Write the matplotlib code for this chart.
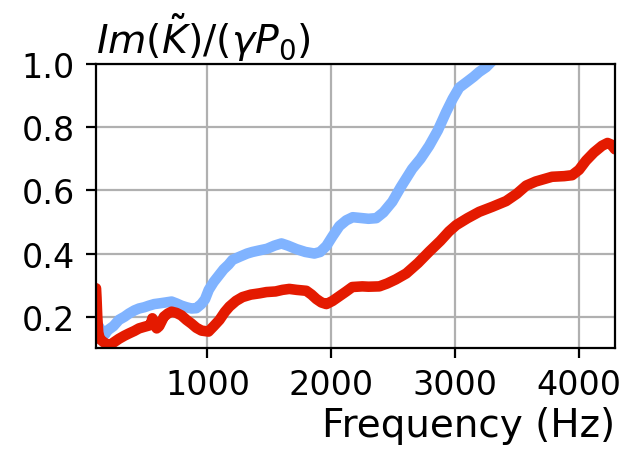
import matplotlib
matplotlib.use("Agg")
import matplotlib.pyplot as plt

# Frequency (Hz) and normalised imaginary bulk modulus for the two samples
freq_blue = [100, 108, 115, 122, 130, 140, 150, 165, 175, 190, 205, 240, 285, 330, 366,
             410, 447, 490, 527, 570, 608, 660, 710, 750, 790, 830, 871, 910, 950,
             980, 1010, 1050, 1090, 1130, 1170, 1202, 1260, 1320, 1363, 1420, 1480,
             1540, 1597, 1650, 1718, 1790, 1863, 1910, 1960, 2010, 2065, 2120, 2173,
             2250, 2300, 2363, 2420, 2492, 2560, 2653, 2720, 2790, 2860, 2927, 2980,
             3032, 3100, 3150, 3194, 3250, 3300]
im_blue = [0.16, 0.14, 0.13, 0.17, 0.14, 0.16, 0.14, 0.15, 0.145, 0.155, 0.16, 0.17,
           0.19, 0.20, 0.21, 0.22, 0.226, 0.23, 0.235, 0.24, 0.242, 0.245, 0.248, 0.242,
           0.235, 0.23, 0.226, 0.227, 0.24, 0.255, 0.285, 0.31, 0.33, 0.35, 0.365, 0.38,
           0.39, 0.40, 0.405, 0.41, 0.415, 0.425, 0.432, 0.425, 0.414, 0.405, 0.40,
           0.405, 0.424, 0.455, 0.487, 0.505, 0.515, 0.512, 0.51, 0.512, 0.53, 0.564,
           0.61, 0.668, 0.70, 0.741, 0.79, 0.848, 0.89, 0.925, 0.945, 0.96, 0.975,
           0.99, 1.01]

freq_red = [100, 104, 110, 118, 130, 160, 200, 229, 285, 330, 366, 410, 447, 490, 527,
            545, 555, 570, 590, 610, 648, 680, 710, 750, 790, 830, 871, 910, 952, 1008,
            1050, 1097, 1140, 1177, 1230, 1282, 1350, 1420, 1476, 1550, 1605, 1661,
            1720, 1798, 1840, 1879, 1920, 1960, 2010, 2065, 2120, 2169, 2250, 2300,
            2387, 2450, 2520, 2605, 2700, 2790, 2880, 2950, 3008, 3100, 3194, 3300,
            3411, 3500, 3573, 3650, 3782, 3880, 3944, 4000, 4056, 4120, 4185, 4230,
            4260, 4290]
im_red = [0.29, 0.26, 0.20, 0.15, 0.13, 0.12, 0.11, 0.115, 0.13, 0.14, 0.147, 0.155,
          0.163, 0.168, 0.172, 0.18, 0.195, 0.175, 0.163, 0.17, 0.20, 0.21, 0.216,
          0.212, 0.204, 0.19, 0.178, 0.165, 0.156, 0.153, 0.17, 0.19, 0.215, 0.232,
          0.25, 0.262, 0.27, 0.274, 0.278, 0.28, 0.285, 0.288, 0.285, 0.282, 0.27,
          0.256, 0.245, 0.24, 0.25, 0.265, 0.28, 0.294, 0.296, 0.295, 0.296, 0.305,
          0.318, 0.337, 0.37, 0.406, 0.44, 0.47, 0.49, 0.512, 0.532, 0.548, 0.566,
          0.59, 0.615, 0.628, 0.643, 0.645, 0.648, 0.665, 0.694, 0.72, 0.741, 0.75,
          0.745, 0.73]

x_ticks = [1000, 2000, 3000, 4000]
y_ticks = [0.2, 0.4, 0.6, 0.8, 1.0]

plt.rcParams["font.size"] = 12

fig = plt.figure(figsize=(3.19, 2.26), dpi=200)
ax = fig.add_axes([0.1505, 0.2272, 0.8134, 0.629])

ax.plot(freq_blue, im_blue, color="#80b3ff", lw=3.8, solid_capstyle="round")
ax.plot(freq_red, im_red, color="#e41a00", lw=3.8, solid_capstyle="round")

ax.set_xlim(100, 4290)
ax.set_ylim(0.1, 1.0)
ax.set_xticks(x_ticks)
ax.set_yticks(y_ticks)
ax.tick_params(labelsize=12)
ax.tick_params(axis="y", pad=4.2)
ax.grid(True, color="#b0b0b0", lw=0.8)

ax.set_title(r"$Im(\tilde{K})/(\gamma P_0)$", loc="left", pad=4, fontsize=14.2)
ax.set_xlabel("Frequency (Hz)", loc="right", fontsize=14, labelpad=2)

fig.savefig("out.png", dpi=200)
